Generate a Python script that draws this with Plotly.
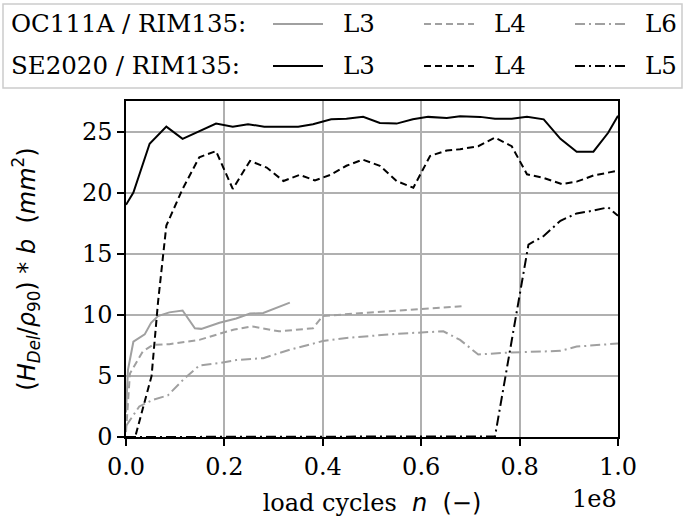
import plotly.graph_objects as go

# load cycles in units of 1e8, values in mm^2
n_oc_l3 = [0.0, 0.004, 0.015, 0.038, 0.051, 0.065, 0.088, 0.115, 0.14, 0.153, 0.19, 0.224, 0.252, 0.279, 0.333]
v_oc_l3 = [2.0, 5.5, 7.8, 8.4, 9.35, 9.9, 10.2, 10.35, 8.9, 8.85, 9.35, 9.7, 10.1, 10.15, 11.0]

n_oc_l4 = [0.0, 0.008, 0.034, 0.055, 0.088, 0.149, 0.19, 0.22, 0.257, 0.284, 0.311, 0.38, 0.4, 0.482, 0.597, 0.682]
v_oc_l4 = [0.4, 5.2, 7.0, 7.55, 7.6, 7.95, 8.45, 8.8, 9.05, 8.85, 8.65, 8.9, 9.9, 10.15, 10.5, 10.7]

n_oc_l6 = [0.0, 0.027, 0.055, 0.085, 0.119, 0.149, 0.19, 0.224, 0.279, 0.333, 0.4, 0.448, 0.55, 0.645,
           0.679, 0.716, 0.774, 0.883, 0.916, 1.0]
v_oc_l6 = [0.9, 2.5, 3.05, 3.4, 4.8, 5.85, 6.05, 6.3, 6.45, 7.15, 7.85, 8.1, 8.45, 8.65,
           7.95, 6.75, 6.9, 7.05, 7.4, 7.65]

n_se_l3 = [0.0, 0.015, 0.048, 0.082, 0.115, 0.149, 0.183, 0.217, 0.248, 0.281, 0.35, 0.38, 0.417, 0.448,
           0.482, 0.516, 0.55, 0.583, 0.614, 0.652, 0.679, 0.72, 0.75, 0.784, 0.815, 0.849, 0.883,
           0.916, 0.95, 0.98, 1.0]
v_se_l3 = [19.0, 20.0, 24.0, 25.4, 24.4, 25.0, 25.65, 25.4, 25.6, 25.4, 25.4, 25.6, 26.0, 26.05,
           26.2, 25.7, 25.65, 26.0, 26.2, 26.1, 26.25, 26.2, 26.05, 26.05, 26.2, 26.0, 24.4,
           23.35, 23.35, 24.9, 26.3]

n_se_l4 = [0.02, 0.052, 0.065, 0.075, 0.082, 0.115, 0.149, 0.183, 0.217, 0.252, 0.286, 0.32, 0.353, 0.384,
           0.415, 0.448, 0.481, 0.516, 0.55, 0.584, 0.618, 0.652, 0.679, 0.716, 0.75, 0.784, 0.815,
           0.849, 0.886, 0.916, 0.95, 1.0]
v_se_l4 = [0.2, 5.0, 11.0, 14.8, 17.3, 20.3, 22.9, 23.4, 20.3, 22.6, 22.05, 20.95, 21.45, 21.0,
           21.45, 22.2, 22.7, 22.2, 20.95, 20.4, 23.0, 23.45, 23.55, 23.8, 24.5, 23.8, 21.5,
           21.2, 20.7, 20.9, 21.4, 21.8]

n_se_l5 = [0.0, 0.25, 0.5, 0.75, 0.818, 0.849, 0.883, 0.916, 0.946, 0.98, 1.0]
v_se_l5 = [0.0, 0.0, 0.0, 0.05, 15.75, 16.45, 17.7, 18.3, 18.5, 18.8, 18.1]

x_ticks = [0.0, 0.2, 0.4, 0.6, 0.8, 1.0]
y_ticks = [0, 5, 10, 15, 20, 25]

GREY = "#a0a0a0"
BLACK = "#000000"
DASH = "7px,4px"
DASHDOT = "10px,4px,2px,4px"
SERIF = "DejaVu Serif"
SANS = "DejaVu Sans"

W, H = 685, 522
L, R, T, B = 126, 67, 101, 85

series = [
    (n_oc_l3, v_oc_l3, GREY, "solid", "OC111A L3"),
    (n_oc_l4, v_oc_l4, GREY, DASH, "OC111A L4"),
    (n_oc_l6, v_oc_l6, GREY, DASHDOT, "OC111A L6"),
    (n_se_l3, v_se_l3, BLACK, "solid", "SE2020 L3"),
    (n_se_l4, v_se_l4, BLACK, DASH, "SE2020 L4"),
    (n_se_l5, v_se_l5, BLACK, DASHDOT, "SE2020 L5"),
]

fig = go.Figure()
for xs, ys, color, dash, name in series:
    fig.add_trace(
        go.Scatter(
            x=xs, y=ys, mode="lines", name=name,
            line={"color": color, "width": 2, "dash": dash},
            showlegend=False,
        )
    )


def px_x(p):
    return (p - L) / (W - L - R)


def px_y(p):
    return (H - B - p) / (H - T - B)


# hand-made legend box (two rows, like the original)
fig.add_shape(
    type="rect", xref="paper", yref="paper",
    x0=px_x(3), x1=px_x(682), y0=px_y(88), y1=px_y(4),
    line={"color": "#cccccc", "width": 1.5}, fillcolor="white", layer="above",
)
rows = [
    ("OC111A / RIM135:", GREY, ["L3", "L4", "L6"], 24),
    ("SE2020 / RIM135:", BLACK, ["L3", "L4", "L5"], 66),
]
for header, color, labels, ypx in rows:
    fig.add_annotation(
        xref="paper", yref="paper", x=px_x(9), y=px_y(ypx), text=header,
        showarrow=False, xanchor="left", yanchor="middle",
        font={"family": SERIF, "size": 24.5, "color": "black"},
    )
    for i, (label, dash) in enumerate(zip(labels, ["solid", DASH, DASHDOT])):
        x0 = 273 + i * 151
        fig.add_shape(
            type="line", xref="paper", yref="paper",
            x0=px_x(x0), x1=px_x(x0 + 50), y0=px_y(ypx), y1=px_y(ypx),
            line={"color": color, "width": 2, "dash": dash}, layer="above",
        )
        fig.add_annotation(
            xref="paper", yref="paper", x=px_x(x0 + 68), y=px_y(ypx), text=label,
            showarrow=False, xanchor="left", yanchor="middle",
            font={"family": SERIF, "size": 24.5, "color": "black"},
        )

fig.add_annotation(
    xref="paper", yref="paper", x=px_x(619), y=px_y(499), text="1e8",
    showarrow=False, xanchor="right", yanchor="middle",
    font={"family": SERIF, "size": 24, "color": "black"},
)

sp = "\u00a0"
y_title = (
    f"<span style='font-family:{SANS}'>(<i>H</i><sub><i>Del</i></sub>/<i>ρ</i><sub>90</sub>)"
    f" * <i>b</i>{sp}{sp}(<i>mm</i><sup>2</sup>)</span>"
)
x_title = f"load cycles{sp}{sp}<span style='font-family:{SANS}'><i>n</i>{sp}{sp}(−)</span>"

axis_common = dict(
    showgrid=True, gridcolor="#b0b0b0", gridwidth=1.5,
    showline=True, linecolor="black", linewidth=1.5, mirror=True,
    ticks="outside", ticklen=7, tickwidth=1.5, tickcolor="black",
    zeroline=False, automargin=False,
    tickfont={"family": SERIF, "size": 24, "color": "black"},
)

fig.update_layout(
    template="none",
    width=W, height=H,
    margin={"l": L, "r": R, "t": T, "b": B, "pad": 0},
    paper_bgcolor="white", plot_bgcolor="white",
    showlegend=False,
    xaxis=dict(
        axis_common, range=[0, 1], tickvals=x_ticks,
        ticktext=[f"{v:.1f}" for v in x_ticks],
        title={"text": x_title, "font": {"family": SERIF, "size": 24, "color": "black"}, "standoff": 15},
    ),
    yaxis=dict(
        axis_common, range=[0, 27.5], tickvals=y_ticks,
        title={"text": y_title, "font": {"family": SANS, "size": 24, "color": "black"}, "standoff": 40},
    ),
)

# the page body has a default 8px margin; drop it so the figure fills the window
fig.write_html(
    "out.html",
    config={"displayModeBar": False},
    post_script="document.body.style.margin='0px';",
)
